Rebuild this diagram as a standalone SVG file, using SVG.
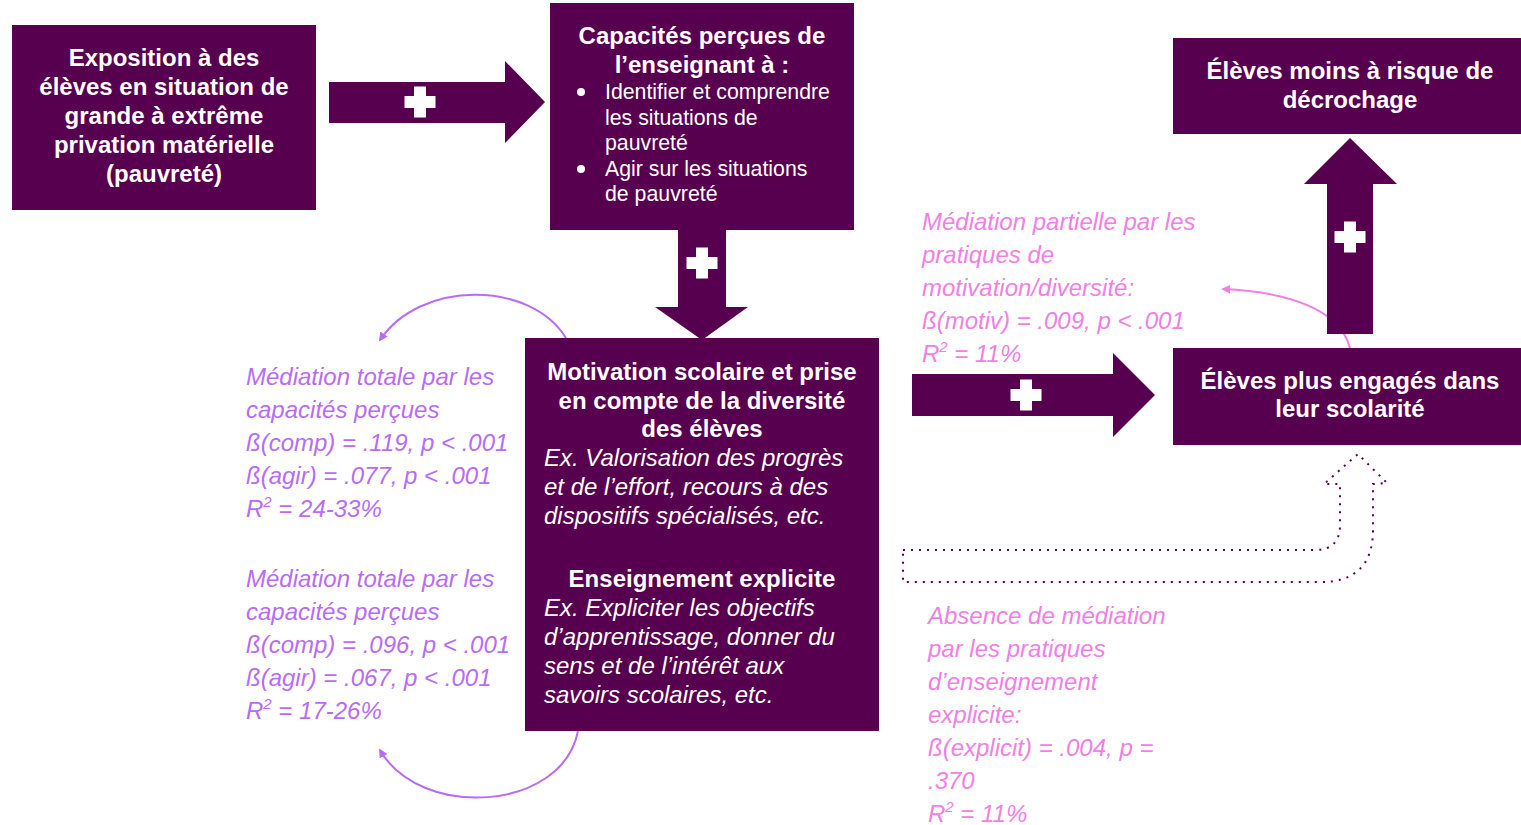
<svg xmlns="http://www.w3.org/2000/svg" width="1521" height="825" viewBox="0 0 1521 825">
<style>
.box{fill:#580050}
.bt{font-family:"Liberation Sans",Arial,sans-serif;font-size:24px;font-weight:bold;fill:#fff;text-anchor:middle}
.bi{font-family:"Liberation Sans",Arial,sans-serif;font-size:24px;font-style:italic;fill:#fff}
.br{font-family:"Liberation Sans",Arial,sans-serif;font-size:21.3px;fill:#fff}
.lav{font-family:"Liberation Sans",Arial,sans-serif;font-size:24px;font-style:italic;fill:#b86cf6}
.pink{font-family:"Liberation Sans",Arial,sans-serif;font-size:24px;font-style:italic;fill:#f080e6}
.plus{fill:#fff}
</style>
<defs>
<polygon id="plus" points="-6,-15.5 6,-15.5 6,-6 15.5,-6 15.5,6 6,6 6,15.5 -6,15.5 -6,6 -15.5,6 -15.5,-6 -6,-6"/>
<marker id="mL" viewBox="0 0 10 10" refX="8" refY="5" markerWidth="9" markerHeight="9" orient="auto" markerUnits="userSpaceOnUse">
<path d="M0,0 L10,5 L0,10 Z" fill="#b86cf6"/>
</marker>
<marker id="mP" viewBox="0 0 10 10" refX="8" refY="5" markerWidth="9" markerHeight="9" orient="auto" markerUnits="userSpaceOnUse">
<path d="M0,0 L10,5 L0,10 Z" fill="#f080e6"/>
</marker>
</defs>

<g id="connectors">
<path d="M566 338 C530 280 420 280 380 340" fill="none" stroke="#b86cf6" stroke-width="2" marker-end="url(#mL)"/>
<path d="M578 731 C562 812 420 820 380 750" fill="none" stroke="#b86cf6" stroke-width="2" marker-end="url(#mL)"/>
<path d="M1350 348 C1340 310 1290 292 1223 289" fill="none" stroke="#f080e6" stroke-width="2" marker-end="url(#mP)"/>
<g id="arrow-plus-1">
<polygon class="box" points="329,82 505,82 505,61 545,102 505,143 505,123 329,123"/>
<use href="#plus" class="plus" x="420" y="102"/>
</g>
<g id="arrow-plus-2">
<polygon class="box" points="678,230 726,230 726,307 748,307 702,340 655,307 678,307"/>
<use href="#plus" class="plus" x="702" y="263"/>
</g>
<g id="arrow-plus-3">
<polygon class="box" points="912,374 1113,374 1113,353 1155,395 1113,437 1113,416 912,416"/>
<use href="#plus" class="plus" x="1026" y="395"/>
</g>
<g id="arrow-plus-4">
<polygon class="box" points="1327,334 1327,184 1304,184 1350,138 1397,184 1373,184 1373,334"/>
<use href="#plus" class="plus" x="1350" y="237"/>
</g>
<path id="arrow-dotted" d="M903 550 L1315 550 Q1340 550 1340 525 L1340 484 L1324 484 L1358 454 L1387 483 L1373 484 L1373 530 Q1373 582 1320 582 L903 582 Z" fill="none" stroke="#580050" stroke-width="2" stroke-dasharray="2 6"/>
</g>

<g id="node-exposition">
<rect class="box" x="12" y="25" width="304" height="185"/>
<text class="bt" x="164" y="66">Exposition à des</text>
<text class="bt" x="164" y="95">élèves en situation de</text>
<text class="bt" x="164" y="124">grande à extrême</text>
<text class="bt" x="164" y="153">privation matérielle</text>
<text class="bt" x="164" y="182">(pauvreté)</text>
</g>

<g id="node-capacites">
<rect class="box" x="550" y="3" width="304" height="227"/>
<text class="bt" x="702" y="44">Capacités perçues de</text>
<text class="bt" x="702" y="73">l’enseignant à :</text>
<circle cx="581" cy="92" r="4" fill="#fff"/>
<circle cx="581" cy="169" r="4" fill="#fff"/>
<text class="br" x="605" y="99">Identifier et comprendre</text>
<text class="br" x="605" y="125">les situations de</text>
<text class="br" x="605" y="150">pauvreté</text>
<text class="br" x="605" y="176">Agir sur les situations</text>
<text class="br" x="605" y="201">de pauvreté</text>
</g>

<g id="node-pratiques">
<rect class="box" x="525" y="338" width="354" height="393"/>
<text class="bt" x="702" y="380">Motivation scolaire et prise</text>
<text class="bt" x="702" y="409">en compte de la diversité</text>
<text class="bt" x="702" y="437">des élèves</text>
<text class="bi" x="544" y="466">Ex. Valorisation des progrès</text>
<text class="bi" x="544" y="495">et de l’effort, recours à des</text>
<text class="bi" x="544" y="524">dispositifs spécialisés, etc.</text>
<text class="bt" x="702" y="587">Enseignement explicite</text>
<text class="bi" x="544" y="616">Ex. Expliciter les objectifs</text>
<text class="bi" x="544" y="645">d’apprentissage, donner du</text>
<text class="bi" x="544" y="674">sens et de l’intérêt aux</text>
<text class="bi" x="544" y="703">savoirs scolaires, etc.</text>
</g>

<g id="node-engages">
<rect class="box" x="1173" y="348" width="348" height="97"/>
<text class="bt" x="1350" y="389">Élèves plus engagés dans</text>
<text class="bt" x="1350" y="417">leur scolarité</text>
</g>

<g id="node-risque">
<rect class="box" x="1173" y="38" width="348" height="96"/>
<text class="bt" x="1350" y="79">Élèves moins à risque de</text>
<text class="bt" x="1350" y="108">décrochage</text>
</g>

<g id="label-mediation-1">
<text class="lav" x="246" y="385">Médiation totale par les</text>
<text class="lav" x="246" y="418">capacités perçues</text>
<text class="lav" x="246" y="451">ß(comp) = .119, p &lt; .001</text>
<text class="lav" x="246" y="484">ß(agir) = .077, p &lt; .001</text>
<text class="lav" x="246" y="517">R<tspan font-size="15" dy="-10">2</tspan><tspan dy="10"> = 24-33%</tspan></text>
</g>

<g id="label-mediation-2">
<text class="lav" x="246" y="587">Médiation totale par les</text>
<text class="lav" x="246" y="620">capacités perçues</text>
<text class="lav" x="246" y="653">ß(comp) = .096, p &lt; .001</text>
<text class="lav" x="246" y="686">ß(agir) = .067, p &lt; .001</text>
<text class="lav" x="246" y="719">R<tspan font-size="15" dy="-10">2</tspan><tspan dy="10"> = 17-26%</tspan></text>
</g>

<g id="label-mediation-3">
<text class="pink" x="922" y="230">Médiation partielle par les</text>
<text class="pink" x="922" y="263">pratiques de</text>
<text class="pink" x="922" y="296">motivation/diversité:</text>
<text class="pink" x="922" y="329">ß(motiv) = .009, p &lt; .001</text>
<text class="pink" x="922" y="362">R<tspan font-size="15" dy="-10">2</tspan><tspan dy="10"> = 11%</tspan></text>
</g>

<g id="label-mediation-4">
<text class="pink" x="928" y="624">Absence de médiation</text>
<text class="pink" x="928" y="657">par les pratiques</text>
<text class="pink" x="928" y="690">d’enseignement</text>
<text class="pink" x="928" y="723">explicite:</text>
<text class="pink" x="928" y="756">ß(explicit) = .004, p =</text>
<text class="pink" x="928" y="789">.370</text>
<text class="pink" x="928" y="822">R<tspan font-size="15" dy="-10">2</tspan><tspan dy="10"> = 11%</tspan></text>
</g>
</svg>
